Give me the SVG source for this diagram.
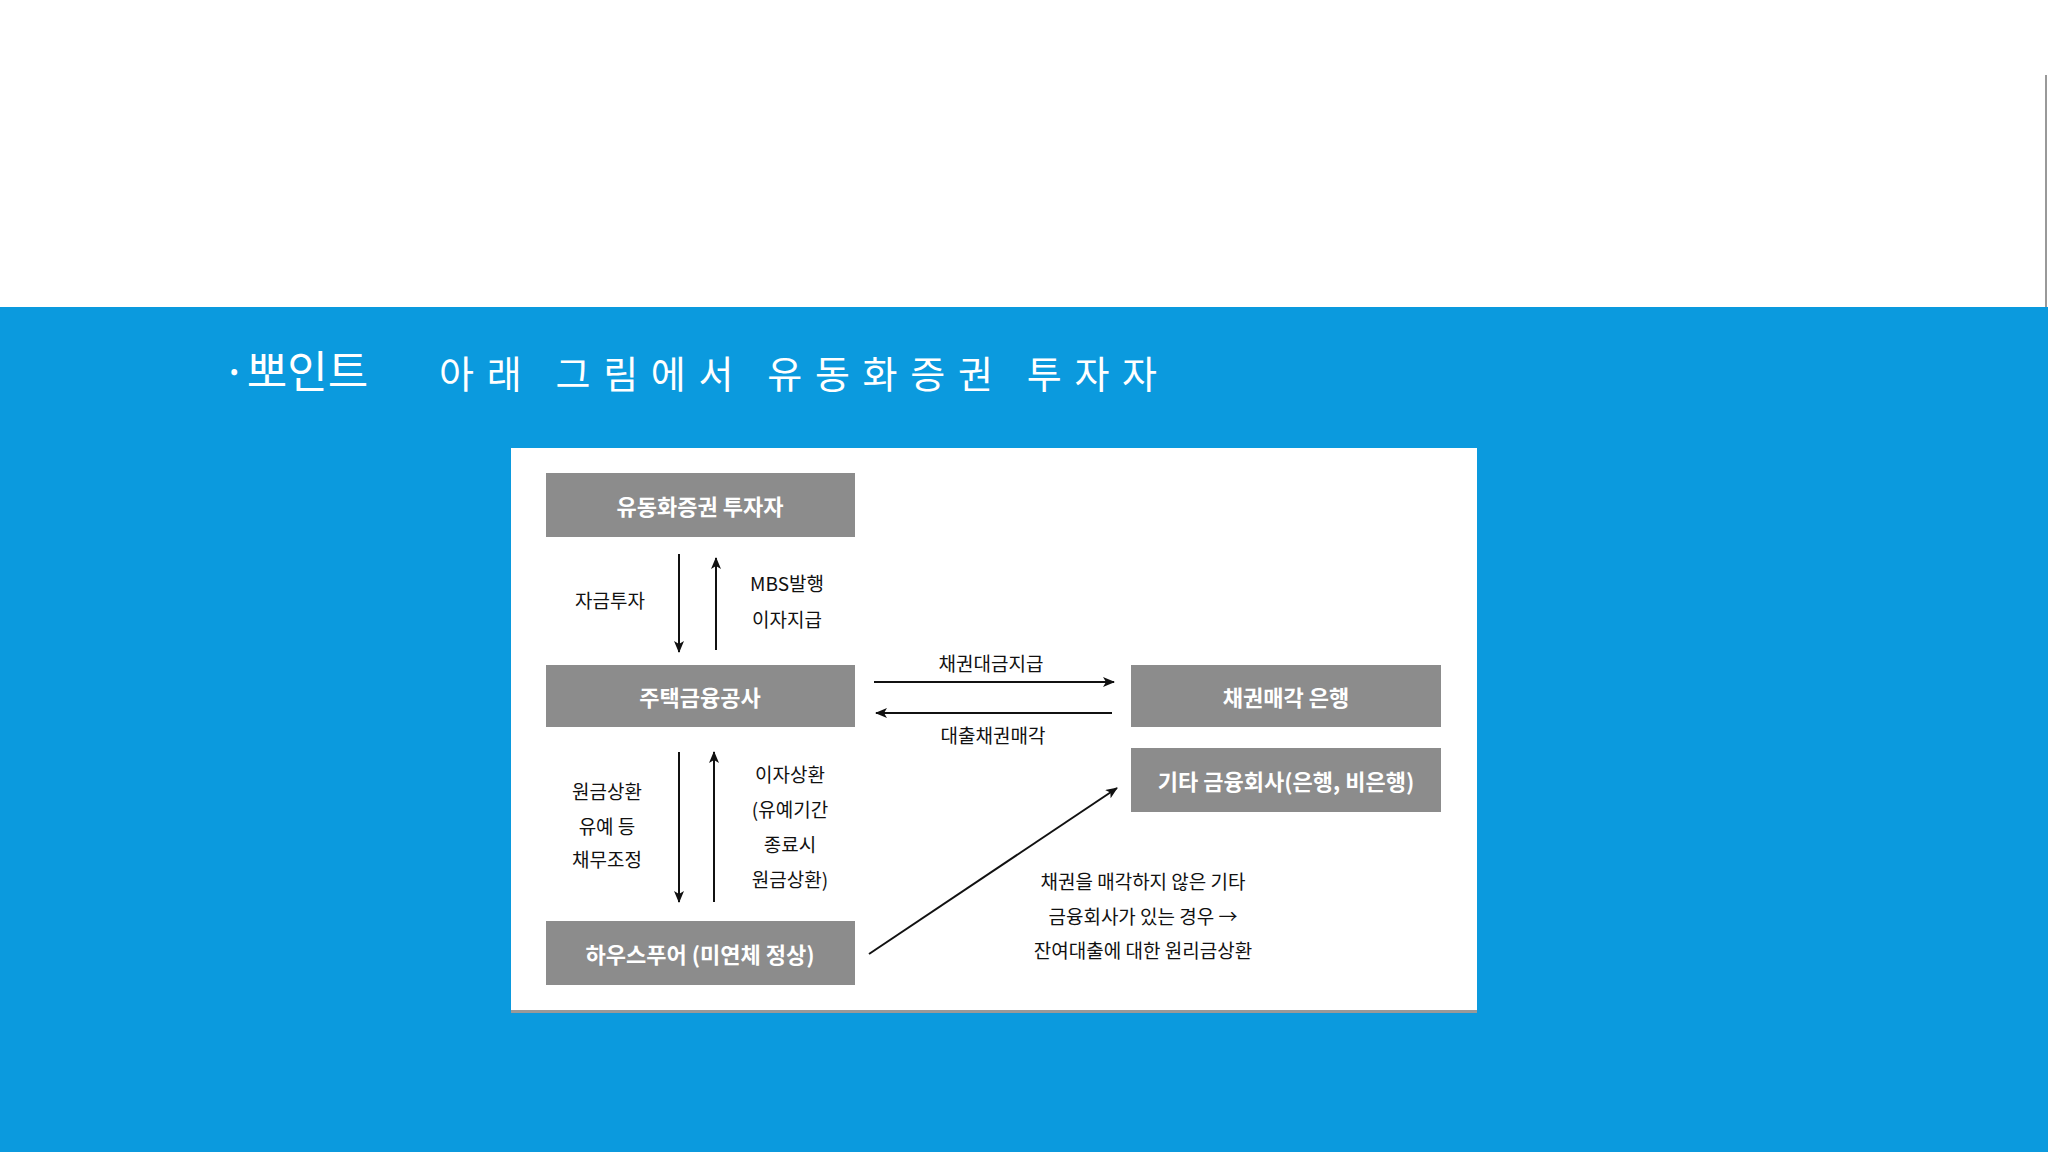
<svg xmlns="http://www.w3.org/2000/svg" width="2048" height="1152" viewBox="0 0 2048 1152">
<style>
.bx{fill:#8c8c8c}
.bt{font-family:"Noto Sans CJK KR","Liberation Sans",sans-serif;font-size:22px;font-weight:bold;fill:#fff;text-anchor:middle;dominant-baseline:central}
.lb{font-family:"Noto Sans CJK KR","Liberation Sans",sans-serif;font-size:19px;fill:#111;text-anchor:middle;dominant-baseline:central}
.ln{stroke:#111;stroke-width:2;fill:none;marker-end:url(#ah)}
</style>
<defs><marker id="ah" markerWidth="12" markerHeight="10" refX="11" refY="5" orient="auto" markerUnits="userSpaceOnUse"><path d="M0,0 L12,5 L0,10 L3,5 Z" fill="#111"/></marker></defs>
<rect width="2048" height="1152" fill="#0b9ade"/>
<rect width="2048" height="307" fill="#fff"/>
<line x1="2046" y1="75" x2="2046" y2="307" stroke="#999" stroke-width="2"/>
<text x="222" y="388" font-family="Noto Sans CJK KR,sans-serif" font-size="44" fill="#fff">·뽀인트</text>
<text x="439" y="388" font-family="Noto Sans CJK KR,sans-serif" font-size="38" fill="#fff" textLength="718" lengthAdjust="spacing">아래 그림에서 유동화증권 투자자</text>
<rect x="511" y="448" width="966" height="562" fill="#fff"/>
<rect x="511" y="1010" width="966" height="3" fill="#999"/>
<g id="n1"><rect class="bx" x="546" y="473" width="309" height="64"/><text class="bt" x="700" y="505">유동화증권 투자자</text></g>
<g id="n2"><rect class="bx" x="546" y="665" width="309" height="62"/><text class="bt" x="700" y="696">주택금융공사</text></g>
<g id="n3"><rect class="bx" x="546" y="921" width="309" height="64"/><text class="bt" x="700" y="953">하우스푸어 (미연체 정상)</text></g>
<g id="n4"><rect class="bx" x="1131" y="665" width="310" height="62"/><text class="bt" x="1286" y="696">채권매각 은행</text></g>
<g id="n5"><rect class="bx" x="1131" y="748" width="310" height="64"/><text class="bt" x="1286" y="780">기타 금융회사(은행, 비은행)</text></g>
<g id="connectors">
<line class="ln" x1="679" y1="554" x2="679" y2="652"/>
<line class="ln" x1="716" y1="650" x2="716" y2="558"/>
<line class="ln" x1="874" y1="682" x2="1114" y2="682"/>
<line class="ln" x1="1112" y1="713" x2="876" y2="713"/>
<line class="ln" x1="679" y1="752" x2="679" y2="902"/>
<line class="ln" x1="714" y1="902" x2="714" y2="752"/>
<line class="ln" x1="869" y1="954" x2="1117" y2="788"/>
<text class="lb" x="610" y="599">자금투자</text>
<text class="lb" x="787" y="582">MBS발행</text>
<text class="lb" x="787" y="618">이자지급</text>
<text class="lb" x="991" y="662">채권대금지급</text>
<text class="lb" x="993" y="734">대출채권매각</text>
<text class="lb" x="607" y="790">원금상환</text>
<text class="lb" x="607" y="825">유예 등</text>
<text class="lb" x="607" y="858">채무조정</text>
<text class="lb" x="790" y="773">이자상환</text>
<text class="lb" x="790" y="808">(유예기간</text>
<text class="lb" x="790" y="843">종료시</text>
<text class="lb" x="790" y="878">원금상환)</text>
<text class="lb" x="1143" y="880">채권을 매각하지 않은 기타</text>
<text class="lb" x="1143" y="915">금융회사가 있는 경우 →</text>
<text class="lb" x="1143" y="949">잔여대출에 대한 원리금상환</text>
</g>
</svg>
